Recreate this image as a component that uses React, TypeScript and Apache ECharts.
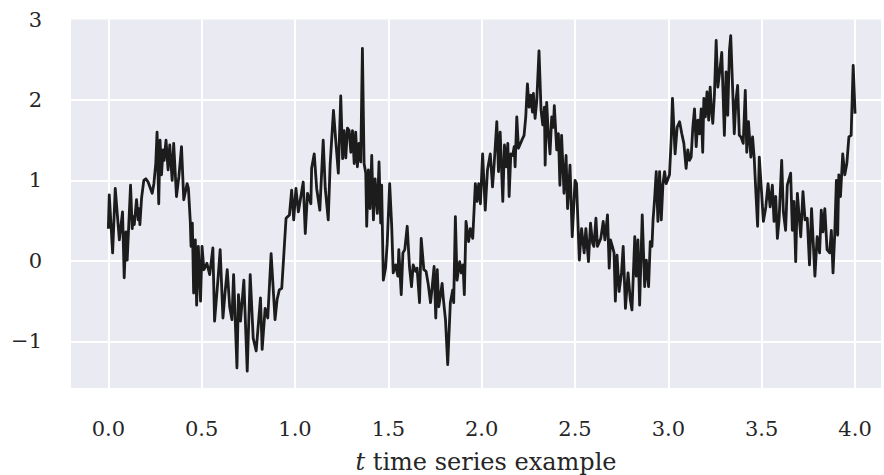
import React, { useEffect, useRef } from "react";
import * as echarts from "echarts";

// time values (t)
const tValues: number[] = [
  0.000, 0.005, 0.023, 0.037, 0.059, 0.076, 0.085, 0.094, 0.101, 0.119, 0.128, 0.133, 0.139, 0.151, 0.160, 0.165, 0.169, 0.178, 0.190, 0.201,
  0.213, 0.235, 0.244, 0.254, 0.261, 0.270, 0.277, 0.285, 0.293, 0.299, 0.309, 0.320, 0.329, 0.342, 0.350, 0.365, 0.378, 0.392, 0.404, 0.422,
  0.429, 0.439, 0.443, 0.450, 0.457, 0.466, 0.473, 0.482, 0.494, 0.502, 0.512, 0.528, 0.543, 0.560, 0.569, 0.587, 0.599, 0.614,
  0.625, 0.637, 0.650, 0.662, 0.671, 0.689, 0.697, 0.708, 0.726, 0.744, 0.760, 0.776, 0.792, 0.801, 0.815, 0.824, 0.840, 0.854, 0.872, 0.893,
  0.904, 0.916, 0.929, 0.952, 0.970, 0.982, 0.993, 1.005, 1.018, 1.044, 1.055, 1.067, 1.085, 1.089, 1.103, 1.116, 1.133, 1.151, 1.162, 1.178,
  1.188, 1.206, 1.218, 1.232, 1.245, 1.255, 1.263, 1.272, 1.281,
  1.290, 1.299, 1.308, 1.317, 1.325, 1.334, 1.343, 1.352, 1.361, 1.370, 1.379, 1.384, 1.393, 1.402, 1.411, 1.420, 1.429, 1.441, 1.450, 1.459,
  1.464, 1.473, 1.485, 1.494, 1.507, 1.518, 1.526, 1.539, 1.551, 1.556, 1.569, 1.578, 1.588, 1.601, 1.613, 1.624, 1.633, 1.646, 1.654, 1.667,
  1.676, 1.690, 1.702, 1.713, 1.726, 1.735, 1.745, 1.754, 1.762, 1.770, 1.781, 1.788, 1.795, 1.806, 1.818, 1.832, 1.845, 1.850, 1.859, 1.868,
  1.882, 1.891, 1.900, 1.907, 1.916, 1.930, 1.939, 1.952,
  1.966, 1.975, 1.984, 1.993, 2.005, 2.019, 2.031, 2.046, 2.058, 2.067, 2.081, 2.090, 2.099, 2.113, 2.122, 2.131, 2.140, 2.147, 2.156, 2.166,
  2.174, 2.179, 2.188, 2.197, 2.215, 2.227, 2.236, 2.245, 2.254, 2.263, 2.272, 2.277, 2.286, 2.295, 2.307, 2.318, 2.327, 2.336, 2.340, 2.348,
  2.357, 2.366, 2.375, 2.384, 2.389, 2.402, 2.411, 2.419, 2.428, 2.441, 2.452, 2.460, 2.473, 2.485, 2.500, 2.508, 2.523, 2.535, 2.549, 2.558,
  2.572, 2.583, 2.594, 2.601, 2.612, 2.620,
  2.638, 2.651, 2.660, 2.674, 2.683, 2.690, 2.700, 2.709, 2.716, 2.725, 2.736, 2.749, 2.758, 2.770, 2.784, 2.796, 2.805, 2.820, 2.828, 2.837,
  2.846, 2.860, 2.873, 2.882, 2.894, 2.903, 2.912, 2.918, 2.926, 2.935, 2.944, 2.953, 2.962, 2.971, 2.980, 2.988, 3.006, 3.015, 3.022, 3.036,
  3.047, 3.060, 3.072, 3.083, 3.095, 3.104, 3.113, 3.122, 3.131, 3.140, 3.149, 3.158, 3.167, 3.176, 3.184, 3.190, 3.198, 3.207, 3.216, 3.224,
  3.229, 3.238, 3.247, 3.256, 3.265, 3.276, 3.286,
  3.300, 3.309, 3.318, 3.327, 3.334, 3.344, 3.353, 3.362, 3.371, 3.380, 3.389, 3.401, 3.412, 3.420, 3.429, 3.442, 3.451, 3.460, 3.469, 3.478,
  3.487, 3.499, 3.509, 3.522, 3.534, 3.545, 3.557, 3.566, 3.575, 3.584, 3.593, 3.607, 3.616, 3.628, 3.637, 3.655, 3.664, 3.673, 3.682, 3.691,
  3.709, 3.721, 3.732, 3.744, 3.756, 3.767, 3.785, 3.797, 3.810, 3.819, 3.828, 3.838, 3.850, 3.864, 3.873, 3.882, 3.891, 3.900, 3.907, 3.913,
  3.922, 3.934, 3.945, 3.956, 3.967, 3.979, 3.990, 4.000,
];

// series values
const yValues: number[] = [
  0.40, 0.82, 0.10, 0.90, 0.26, 0.61, -0.21, 0.36, 0.01, 0.94, 0.40, 0.55, 0.45, 0.76, 0.51, 0.65, 0.45, 0.78, 1.00, 1.02,
  0.98, 0.84, 0.96, 1.21, 1.60, 0.71, 1.50, 1.07, 1.38, 1.25, 1.50, 1.13, 1.44, 1.00, 1.46, 0.80, 1.05, 1.42, 0.76, 0.96,
  0.90, 0.49, 0.18, 0.47, -0.40, 0.26, -0.55, 0.18, -0.50, 0.18, -0.11, -0.03, -0.17, 0.16, -0.75, -0.24, 0.14, -0.71,
  -0.40, -0.11, -0.57, -0.73, -0.17, -1.33, -0.42, -0.75, -0.24, -1.37, -0.17, -0.96, -1.12, -0.86, -0.46, -1.10, -0.59, -0.71, 0.09, -0.73,
  -0.48, -0.36, -0.34, 0.53, 0.57, 0.88, 0.51, 0.90, 0.61, 0.98, 0.34, 0.84, 0.71, 1.15, 1.33, 0.90, 0.63, 1.50, 0.90, 0.51,
  1.19, 1.87, 1.50, 1.09, 2.05, 1.27, 1.62, 1.28, 1.65,
  1.62, 1.35, 1.62, 1.21, 1.60, 1.17, 1.46, 1.23, 2.64, 1.21, 1.09, 0.43, 1.13, 0.65, 1.31, 0.51, 1.02, 0.59, 1.23, 0.47,
  0.94, -0.24, -0.09, 0.22, 0.96, 0.43, -0.15, -0.05, -0.19, 0.14, -0.42, 0.10, 0.14, 0.43, -0.07, -0.32, -0.05, -0.13, -0.09, -0.52,
  0.28, -0.11, -0.13, -0.28, -0.52, -0.32, -0.07, -0.71, -0.11, -0.57, -0.40, -0.28, -0.48, -0.73, -1.29, -0.52, -0.36, -0.52, 0.55, -0.24,
  -0.01, -0.15, -0.05, -0.42, 0.49, 0.24, 0.40, 0.28,
  0.96, 0.74, 0.96, 0.71, 1.33, 0.63, 1.13, 1.33, 0.92, 1.21, 1.73, 1.11, 1.60, 0.74, 1.44, 1.17, 1.46, 0.80, 1.33, 1.31,
  1.42, 1.17, 1.79, 1.40, 1.50, 1.56, 1.79, 2.20, 1.91, 2.06, 1.85, 2.08, 1.77, 1.99, 2.61, 1.87, 1.69, 1.91, 1.19, 1.97,
  1.58, 1.33, 1.79, 1.66, 1.93, 1.38, 1.58, 0.94, 1.56, 0.84, 1.31, 0.65, 1.19, 0.30, 1.00, 0.96, 0.01, 0.40, 0.10, 0.40,
  -0.01, 0.47, 0.22, 0.18, 0.53, 0.18,
  0.28, 0.49, 0.26, 0.57, -0.09, 0.26, 0.18, 0.10, -0.50, 0.07, -0.38, -0.15, 0.18, -0.59, -0.15, -0.48, -0.61, 0.30, -0.19, 0.26,
  -0.55, 0.57, -0.32, 0.01, -0.32, 0.24, 0.18, 0.51, 0.76, 1.11, 0.49, 1.11, 0.51, 0.96, 1.11, 0.96, 1.07, 1.50, 2.02, 1.33,
  1.66, 1.73, 1.58, 1.46, 1.15, 1.38, 1.25, 1.29, 1.66, 1.89, 1.42, 1.75, 1.58, 1.89, 1.35, 2.02, 1.79, 2.10, 1.75, 2.16,
  1.93, 1.71, 2.08, 2.74, 2.16, 2.37, 2.59,
  1.56, 2.35, 1.81, 2.61, 2.80, 2.16, 1.58, 1.99, 2.18, 1.56, 1.54, 1.46, 2.12, 1.35, 1.73, 1.29, 1.54, 1.27, 0.84, 0.43,
  1.29, 0.86, 0.49, 0.67, 0.96, 0.67, 0.94, 0.49, 0.80, 0.28, 0.51, 1.25, 0.61, 0.38, 0.94, 1.09, 0.38, 0.74, -0.01, 0.84,
  0.30, 0.86, 0.51, 0.53, -0.05, 0.65, -0.19, 0.30, 0.10, 0.63, 0.36, 0.65, 0.14, 0.10, 0.38, -0.15, 0.32, 1.00, 0.32, 1.07,
  0.80, 1.33, 1.07, 1.21, 1.54, 1.56, 2.43, 1.83,
];

const xLabelStep = 0.5;
const yLabelStep = 1;
const xAxisTitle = "time series example";

const FONT = "'DejaVu Serif', serif";
const TEXT = "#262626";

export default function App() {
  const ref = useRef<HTMLDivElement>(null);

  useEffect(() => {
    if (!ref.current) return;
    const chart = echarts.init(ref.current, undefined, { renderer: "svg" });
    const data = tValues.map((t, i) => [t, yValues[i]]);
    const isStep = (v: number, s: number) => Math.abs(v / s - Math.round(v / s)) < 1e-6;
    chart.setOption({
      animation: false,
      backgroundColor: "#ffffff",
      grid: {
        left: 71,
        top: 19.5,
        right: 0,
        height: 368.5,
        backgroundColor: "#EAEAF2",
        show: true,
        borderWidth: 0,
      },
      graphic: [
        {
          type: "text",
          x: 486,
          y: 462,
          silent: true,
          style: {
            text: "{i|t} " + xAxisTitle,
            align: "center",
            verticalAlign: "middle",
            fontFamily: FONT,
            fontSize: 24,
            fill: TEXT,
            rich: {
              i: { fontStyle: "italic", fontFamily: FONT, fontSize: 24, fill: TEXT },
            },
          },
        },
      ],
      xAxis: {
        type: "value",
        min: -0.2,
        max: 4.139,
        splitNumber: 9,
        axisLine: { show: false },
        axisTick: { show: false },
        splitLine: {
          show: true,
          showMinLine: false,
          showMaxLine: false,
          lineStyle: { color: "#ffffff", width: 2 },
        },
        axisLabel: {
          margin: 30,
          fontFamily: FONT,
          fontSize: 21,
          color: TEXT,
          formatter: (v: number) => (isStep(v, xLabelStep) ? v.toFixed(1) : ""),
        },
      },
      yAxis: {
        type: "value",
        min: -1.58,
        max: 3.0,
        splitNumber: 5,
        axisLine: { show: false },
        axisTick: { show: false },
        splitLine: {
          show: true,
          showMinLine: false,
          showMaxLine: false,
          lineStyle: { color: "#ffffff", width: 2 },
        },
        axisLabel: {
          margin: 29,
          fontFamily: FONT,
          fontSize: 21,
          color: TEXT,
          showMaxLabel: true,
          formatter: (v: number) =>
            isStep(v, yLabelStep) ? (v < 0 ? "\u2212" + Math.abs(Math.round(v)) : String(Math.round(v))) : "",
        },
      },
      series: [
        {
          type: "line",
          data,
          showSymbol: false,
          symbol: "none",
          lineStyle: { color: "#1c1c1c", width: 2.8, join: "round", cap: "butt" },
          clip: true,
        },
      ],
    });
    return () => chart.dispose();
  }, []);

  return (
    <div
      ref={ref}
      style={{ position: "absolute", left: 0, top: 0, width: 884, height: 475 }}
    />
  );
}
